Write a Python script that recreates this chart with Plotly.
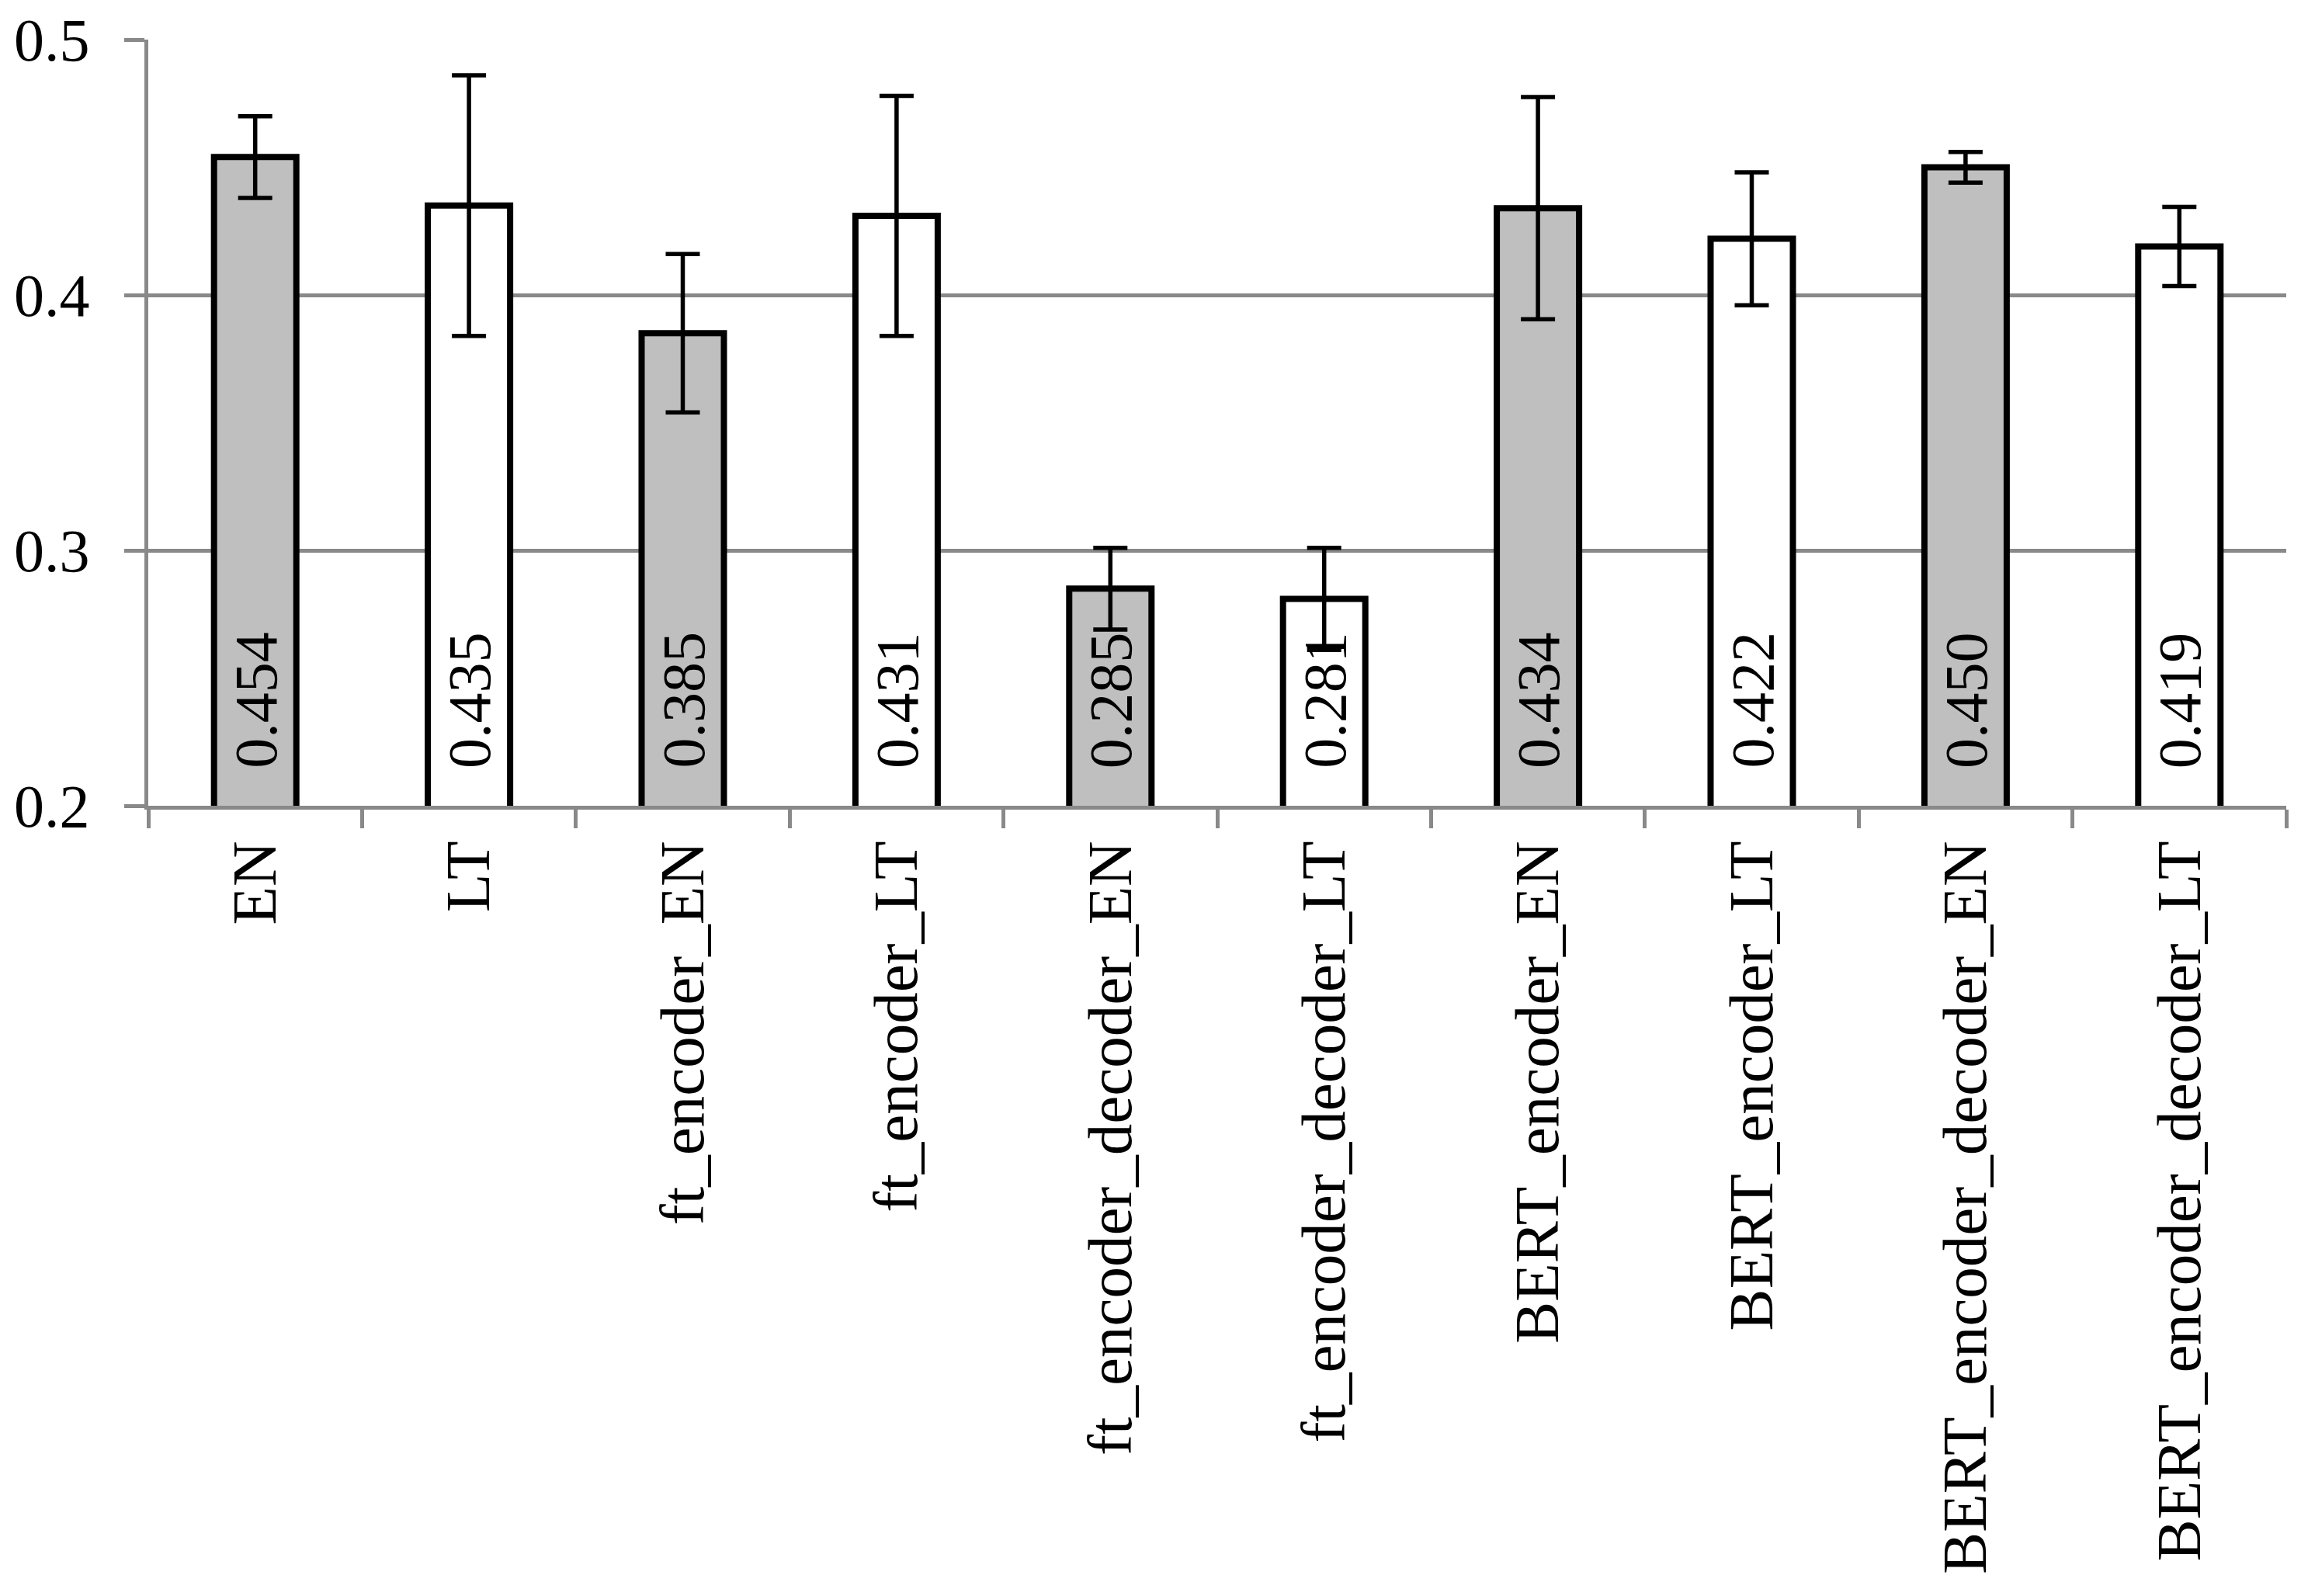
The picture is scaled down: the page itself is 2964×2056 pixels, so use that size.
import plotly.graph_objects as go

categories = ["EN", "LT", "ft_encoder_EN", "ft_encoder_LT", "ft_encoder_decoder_EN",
              "ft_encoder_decoder_LT", "BERT_encoder_EN", "BERT_encoder_LT",
              "BERT_encoder_decoder_EN", "BERT_encoder_decoder_LT"]
values = [0.454, 0.435, 0.385, 0.431, 0.285, 0.281, 0.434, 0.422, 0.450, 0.419]
errors = [0.016, 0.051, 0.031, 0.047, 0.016, 0.020, 0.0435, 0.026, 0.006, 0.0155]
languages = ["EN", "LT", "EN", "LT", "EN", "LT", "EN", "LT", "EN", "LT"]
y_ticks = [0.2, 0.3, 0.4, 0.5]

fill_for = {"EN": "#BFBFBF", "LT": "#FFFFFF"}
colors = [fill_for[l] for l in languages]

fig = go.Figure()
fig.add_trace(go.Bar(
    x=categories, y=values,
    marker=dict(color=colors, line=dict(color="#000000", width=8)),
    error_y=dict(type="data", array=errors, visible=True, color="#000000",
                 thickness=5.5, width=22),
    showlegend=False,
))

for c, v in zip(categories, values):
    fig.add_annotation(
        x=c, y=y_ticks[0], xref="x", yref="y",
        text=f"{v:.3f}", textangle=-90, showarrow=False,
        xanchor="center", yanchor="bottom", yshift=46,
        font=dict(family="Liberation Serif", size=78, color="#000000"),
    )

fig.update_layout(
    width=2964, height=2056,
    margin=dict(l=183, r=27, t=43, b=1026),
    paper_bgcolor="#FFFFFF", plot_bgcolor="#FFFFFF",
    bargap=0.615,
    font=dict(family="Liberation Serif", color="#000000"),
)
fig.update_xaxes(
    type="category", automargin=False,
    showline=True, linecolor="#898989", linewidth=5,
    ticks="outside", tickson="boundaries", ticklen=24, tickwidth=5, tickcolor="#898989",
    tickangle=-90, tickfont=dict(family="Liberation Serif", size=81, color="#000000"),
    ticklabelstandoff=8,
    showgrid=False,
)
fig.update_yaxes(
    range=[0.2, 0.5], tickvals=y_ticks, tickformat=".1f", automargin=False,
    showline=True, linecolor="#898989", linewidth=5,
    ticks="outside", ticklen=26, tickwidth=5, tickcolor="#898989",
    showgrid=True, gridcolor="#898989", gridwidth=5,
    zeroline=False,
    tickfont=dict(family="Liberation Serif", size=78, color="#000000"),
    ticklabelstandoff=29,
)

fig.write_html("out.html")
